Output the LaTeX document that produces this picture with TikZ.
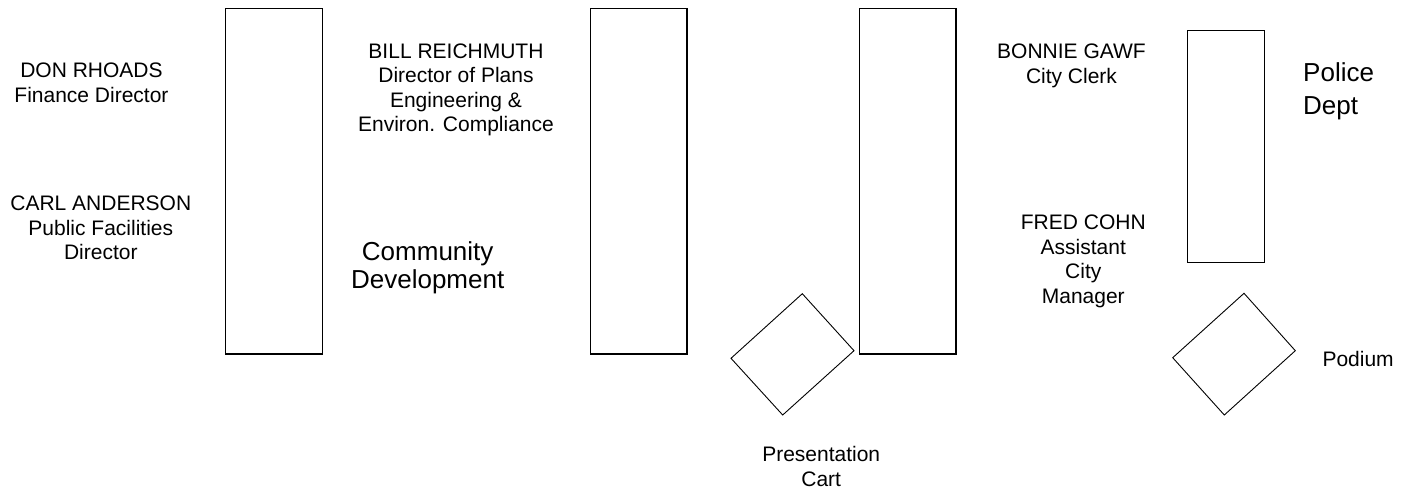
\documentclass[tikz,border=0pt]{standalone}
\usepackage{fontspec}
\setmainfont{Liberation Sans}
\tikzset{
  furn/.style={draw=black, line width=1.2pt},
  cart/.style={draw=black, line width=0.9pt, line join=miter},
  lbl/.style={inner sep=0pt, anchor=north, align=center, font=\fontsize{21}{24.5}\selectfont},
  biglbl/.style={inner sep=0pt, anchor=north, align=center, font=\fontsize{26}{28}\selectfont}
}
\begin{document}
\begin{tikzpicture}[x=1pt,y=-1pt]
\useasboundingbox (0,0) rectangle (1411,489);
% tables
\draw[furn] (225.7,8.7) rectangle (322.3,354);
\draw[furn] (590.8,8.7) rectangle (687,354);
\draw[furn] (859.3,8.7) rectangle (956,354);
\draw[furn] (1187.5,30.3) rectangle (1264.5,262.2);
% carts
\draw[cart] (731,358.3) -- (802.3,293.7) -- (854,350.7) -- (782.7,415) -- cycle;
\draw[cart] (1172.7,357.7) -- (1244,293.3) -- (1295.3,350.7) -- (1224.3,415) -- cycle;
% labels
\node[lbl] (don) at (91.5,62.7) {DON RHOADS\\Finance Director};
\node[lbl] (carl) at (100.8,196) {CARL ANDERSON\\Public Facilities\\Director};
\node[lbl] (bill) at (456,43.3) {BILL REICHMUTH\\Director of Plans\\Engineering \&\\Environ. Compliance};
\node[biglbl] (comdev) at (427.7,241.7) {Community\\Development};
\node[lbl, font=\fontsize{21}{25}\selectfont] (bonnie) at (1071.5,43.3) {BONNIE GAWF\\City Clerk};
\node[lbl] (fred) at (1083.3,215) {FRED COHN\\Assistant\\City\\Manager};
\node[biglbl, anchor=north west, align=left, font=\fontsize{26}{32.7}\selectfont] (police) at (1303,62.3) {Police\\Dept};
\node[lbl, font=\fontsize{21}{25}\selectfont] (pres) at (821.2,445.7) {Presentation\\Cart};
\node[lbl, anchor=north west] (podium) at (1322.3,351) {Podium};
\end{tikzpicture}
\end{document}
